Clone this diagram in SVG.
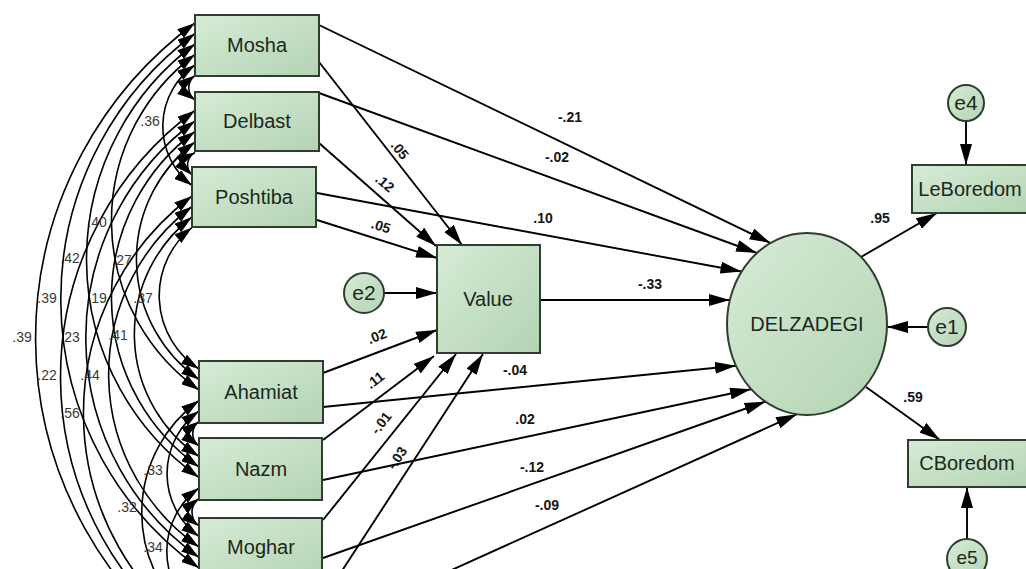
<svg xmlns="http://www.w3.org/2000/svg" width="1026" height="569" viewBox="0 0 1026 569">
<style>
.box{fill:url(#gr);stroke:#2e3d2e;stroke-width:2}
.lbl{font-family:"Liberation Sans",Arial,sans-serif;font-size:20px;fill:#1c281c;text-anchor:middle}
.elbl{font-family:"Liberation Sans",Arial,sans-serif;font-size:21px;fill:#1c281c;text-anchor:middle}
.coef{font-family:"Liberation Sans",Arial,sans-serif;font-size:14px;font-weight:bold;fill:#151515;text-anchor:middle}
.cov{font-family:"Liberation Sans",Arial,sans-serif;font-size:14px;fill:#3a3a3a;text-anchor:middle}
.cv{fill:none;stroke:#000;stroke-width:1.6;marker-start:url(#ca);marker-end:url(#ca)}
.pa{fill:none;stroke:#000;stroke-width:1.9;marker-end:url(#ah)}
</style>
<defs>
<linearGradient id="gr" x1="0" y1="0" x2="1" y2="1">
<stop offset="0" stop-color="#d6ebd6"/>
<stop offset="1" stop-color="#b3d4b4"/>
</linearGradient>
<marker id="ah" viewBox="0 0 21 12" refX="21" refY="6" markerWidth="21" markerHeight="12" markerUnits="userSpaceOnUse" orient="auto">
<path d="M0,0 L21,6 L0,12 z" fill="#000"/>
</marker>
<marker id="ca" viewBox="0 0 18 11" refX="18" refY="5.5" markerWidth="18" markerHeight="11" markerUnits="userSpaceOnUse" orient="auto-start-reverse">
<path d="M0,0 L18,5.5 L0,11 z" fill="#000"/>
</marker>
</defs>
<rect width="1026" height="569" fill="#fff"/>

<g id="connectors">
<path class="cv" d="M195,75.5 A15.1,15.1 0 0 0 195,100"/>
<path class="cv" d="M195,65 A74.5,74.5 0 0 0 192,185.5"/>
<path class="cv" d="M195,54.5 A207.3,207.3 0 0 0 199,390"/>
<path class="cv" d="M195,44 A267.9,267.9 0 0 0 199,477.5"/>
<path class="cv" d="M195,33.5 A330.3,330.3 0 0 0 199,568"/>
<path class="cv" d="M195,23 A391.5,391.5 0 0 0 199,656.5"/>
<path class="cv" d="M195,152.5 A13.9,13.9 0 0 0 192,175"/>
<path class="cv" d="M195,142 A146.8,146.8 0 0 0 199,379.5"/>
<path class="cv" d="M195,131.5 A207.3,207.3 0 0 0 199,467"/>
<path class="cv" d="M195,121 A269.8,269.8 0 0 0 199,557.5"/>
<path class="cv" d="M195,110.5 A330.9,330.9 0 0 0 199,646"/>
<path class="cv" d="M192,227.5 A87.4,87.4 0 0 0 199,369"/>
<path class="cv" d="M192,217 A148,148 0 0 0 199,456.5"/>
<path class="cv" d="M192,206.5 A210.4,210.4 0 0 0 199,547"/>
<path class="cv" d="M192,196 A271.6,271.6 0 0 0 199,635.5"/>
<path class="cv" d="M199,421.5 A15.1,15.1 0 0 0 199,446"/>
<path class="cv" d="M199,411 A77.6,77.6 0 0 0 199,536.5"/>
<path class="cv" d="M199,400.5 A138.7,138.7 0 0 0 199,625"/>
<path class="cv" d="M199,498.5 A17,17 0 0 0 199,526"/>
<path class="cv" d="M199,488 A78.2,78.2 0 0 0 199,614.5"/>
<path class="cv" d="M199,578.5 A15.8,15.8 0 0 0 199,604"/>
<path class="pa" d="M319,25 L770.5,243"/>
<path class="pa" d="M319,93 L757,253"/>
<path class="pa" d="M317,193 L741.5,271.5"/>
<path class="pa" d="M540,300 L730,300"/>
<path class="pa" d="M323,407 L736,365.7"/>
<path class="pa" d="M323,480 L751,389.2"/>
<path class="pa" d="M323,558 L765.5,401.6"/>
<path class="pa" d="M323,628 L797,414.2"/>
<path class="pa" d="M319,62 L462,245"/>
<path class="pa" d="M319,143 L436,246"/>
<path class="pa" d="M317,220 L437,258"/>
<path class="pa" d="M384,293 L437,293"/>
<path class="pa" d="M323,373 L437,330"/>
<path class="pa" d="M323,440 L434,356"/>
<path class="pa" d="M323,520 L456,354"/>
<path class="pa" d="M323,600 L483,354"/>
<path class="pa" d="M861,257 L937,213"/>
<path class="pa" d="M866,387 L940,440"/>
<path class="pa" d="M928,327 L887,327"/>
<path class="pa" d="M966,121 L966,165"/>
<path class="pa" d="M967,539 L967,487"/>
</g>

<g id="labels">
<text class="cov" x="150" y="126">.36</text>
<text class="cov" x="97" y="227">.40</text>
<text class="cov" x="70" y="263">.42</text>
<text class="cov" x="122" y="265">.27</text>
<text class="cov" x="47" y="303">.39</text>
<text class="cov" x="97" y="303">.19</text>
<text class="cov" x="143" y="303">.37</text>
<text class="cov" x="22" y="342">.39</text>
<text class="cov" x="70" y="342">.23</text>
<text class="cov" x="118" y="340">.41</text>
<text class="cov" x="47" y="380">.22</text>
<text class="cov" x="90" y="380">.44</text>
<text class="cov" x="70" y="418">.56</text>
<text class="cov" x="153" y="475">.33</text>
<text class="cov" x="127" y="512">.32</text>
<text class="cov" x="153" y="552">.34</text>

<text class="coef" x="570" y="122">-.21</text>
<text class="coef" x="557" y="162">-.02</text>
<text class="coef" x="543" y="223">.10</text>
<text class="coef" x="650" y="289">-.33</text>
<text class="coef" x="515" y="375">-.04</text>
<text class="coef" x="525" y="424">.02</text>
<text class="coef" x="532" y="472">-.12</text>
<text class="coef" x="547" y="510">-.09</text>
<text class="coef" x="880" y="223">.95</text>
<text class="coef" x="913" y="402">.59</text>

<text class="coef" transform="translate(400,150) rotate(52)" y="5">.05</text>
<text class="coef" transform="translate(385,183) rotate(41)" y="5">.12</text>
<text class="coef" transform="translate(381,226) rotate(18)" y="5">.05</text>
<text class="coef" transform="translate(377,336) rotate(-21)" y="5">.02</text>
<text class="coef" transform="translate(375,380) rotate(-37)" y="5">.11</text>
<text class="coef" transform="translate(381,423) rotate(-52)" y="5">-.01</text>
<text class="coef" transform="translate(397,458) rotate(-57)" y="5">-.03</text>
</g>

<g id="Mosha"><rect class="box" x="195" y="15" width="124" height="61"/><text class="lbl" x="257" y="52">Mosha</text></g>
<g id="Delbast"><rect class="box" x="195" y="92" width="124" height="59"/><text class="lbl" x="257" y="128">Delbast</text></g>
<g id="Poshtiba"><rect class="box" x="192" y="167" width="124" height="60"/><text class="lbl" x="254" y="204">Poshtiba</text></g>
<g id="Ahamiat"><rect class="box" x="199" y="361" width="124" height="62"/><text class="lbl" x="261" y="399">Ahamiat</text></g>
<g id="Nazm"><rect class="box" x="199" y="438" width="123" height="62"/><text class="lbl" x="261" y="476">Nazm</text></g>
<g id="Moghar"><rect class="box" x="199" y="518" width="123" height="62"/><text class="lbl" x="261" y="554">Moghar</text></g>
<g id="Value"><rect class="box" x="437" y="245" width="103" height="108"/><text class="lbl" x="488" y="306">Value</text></g>
<g id="e2"><circle class="box" cx="364" cy="293" r="20"/><text class="elbl" x="364" y="300">e2</text></g>
<g id="DELZADEGI"><ellipse class="box" cx="807" cy="324" rx="80" ry="91"/><text class="lbl" x="807" y="331">DELZADEGI</text></g>
<g id="e1"><circle class="box" cx="947" cy="327" r="19"/><text class="elbl" x="947" y="334">e1</text></g>
<g id="LeBoredom"><rect class="box" x="912" y="165" width="122" height="48"/><text class="lbl" x="970" y="196">LeBoredom</text></g>
<g id="e4"><circle class="box" cx="966" cy="103" r="18"/><text class="elbl" x="966" y="110">e4</text></g>
<g id="CBoredom"><rect class="box" x="908" y="440" width="124" height="47"/><text class="lbl" x="967" y="470">CBoredom</text></g>
<g id="e5"><circle class="box" cx="967" cy="559" r="20"/><text class="elbl" x="967" y="564" style="font-size:19px">e5</text></g>
</svg>
